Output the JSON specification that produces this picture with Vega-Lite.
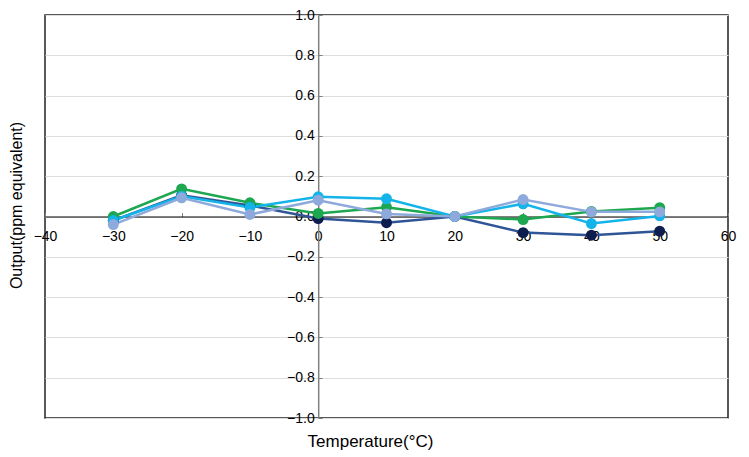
{
  "$schema": "https://vega.github.io/schema/vega-lite/v6.json",
  "width": 683,
  "height": 403,
  "autosize": {"type": "none"},
  "padding": {"left": 45, "top": 15, "right": 21, "bottom": 39},
  "background": "white",
  "config": {
    "view": {"stroke": "#222222", "strokeWidth": 1.5},
    "font": "Liberation Sans",
    "axis": {"labelFont": "Liberation Sans", "titleFont": "Liberation Sans", "labelColor": "#000000", "titleColor": "#000000", "labelFontSize": 14, "titleFontWeight": "normal"}
  },
  "data": {
    "values": [
      {"series": "A", "temp": -30, "value": -0.02},
      {"series": "A", "temp": -20, "value": 0.105},
      {"series": "A", "temp": -10, "value": 0.055},
      {"series": "A", "temp": 0, "value": -0.01},
      {"series": "A", "temp": 10, "value": -0.031},
      {"series": "A", "temp": 20, "value": 0.0},
      {"series": "A", "temp": 30, "value": -0.08},
      {"series": "A", "temp": 40, "value": -0.093},
      {"series": "A", "temp": 50, "value": -0.073},
      {"series": "B", "temp": -30, "value": 0.0},
      {"series": "B", "temp": -20, "value": 0.137},
      {"series": "B", "temp": -10, "value": 0.068},
      {"series": "B", "temp": 0, "value": 0.015},
      {"series": "B", "temp": 10, "value": 0.046},
      {"series": "B", "temp": 20, "value": 0.0},
      {"series": "B", "temp": 30, "value": -0.015},
      {"series": "B", "temp": 40, "value": 0.025},
      {"series": "B", "temp": 50, "value": 0.044},
      {"series": "C", "temp": -30, "value": -0.02},
      {"series": "C", "temp": -20, "value": 0.1},
      {"series": "C", "temp": -10, "value": 0.045},
      {"series": "C", "temp": 0, "value": 0.098},
      {"series": "C", "temp": 10, "value": 0.088},
      {"series": "C", "temp": 20, "value": 0.0},
      {"series": "C", "temp": 30, "value": 0.063},
      {"series": "C", "temp": 40, "value": -0.035},
      {"series": "C", "temp": 50, "value": 0.003},
      {"series": "D", "temp": -30, "value": -0.04},
      {"series": "D", "temp": -20, "value": 0.093},
      {"series": "D", "temp": -10, "value": 0.01},
      {"series": "D", "temp": 0, "value": 0.081},
      {"series": "D", "temp": 10, "value": 0.013},
      {"series": "D", "temp": 20, "value": 0.0},
      {"series": "D", "temp": 30, "value": 0.084},
      {"series": "D", "temp": 40, "value": 0.023},
      {"series": "D", "temp": 50, "value": 0.023}
    ]
  },
  "encoding": {
    "x": {
      "field": "temp", "type": "quantitative",
      "scale": {"domain": [-40, 60], "nice": false, "zero": false},
      "axis": {
        "title": "Temperature(°C)",
        "titleFontSize": 17,
        "offset": -201.5,
        "values": [-40, -30, -20, -10, 0, 10, 20, 30, 40, 50, 60],
        "grid": false,
        "domainColor": "#000000",
        "domainWidth": 1,
        "tickColor": "#808080",
        "tickSize": -4,
        "labelPadding": 17,
        "labelOverlap": false,
        "labelBound": false,
        "labelFlush": false,
        "titleX": 325,
        "titleY": 225,
        "titleBaseline": "middle"
      }
    },
    "y": {
      "field": "value", "type": "quantitative",
      "scale": {"domain": [-1, 1], "nice": false, "zero": false},
      "axis": {
        "title": "Output(ppm equivalent)",
        "titleFontSize": 16,
        "offset": -273.2,
        "values": [-1, -0.8, -0.6, -0.4, -0.2, 0, 0.2, 0.4, 0.6, 0.8, 1],
        "format": ".1f",
        "grid": true,
        "gridColor": "#dddddd",
        "gridWidth": 1,
        "domainColor": "#808080",
        "domainWidth": 1.5,
        "tickColor": "#808080",
        "tickSize": -4,
        "labelPadding": 8,
        "labelOverlap": false,
        "labelBound": false,
        "labelFlush": false,
        "titleX": -302,
        "titleY": 190,
        "titleBaseline": "middle"
      }
    }
  },
  "layer": [
    {
      "mark": {"type": "line", "strokeWidth": 2.5},
      "encoding": {
        "color": {
          "field": "series", "type": "nominal",
          "scale": {"domain": ["A", "B", "C", "D"], "range": ["#2F5597", "#1DA750", "#14B4EA", "#8EA9DB"]},
          "legend": null
        }
      }
    },
    {
      "mark": {"type": "point", "filled": true, "opacity": 1, "size": 120},
      "encoding": {
        "color": {
          "field": "series", "type": "nominal",
          "scale": {"domain": ["A", "B", "C", "D"], "range": ["#0D1D4F", "#1DA750", "#14B4EA", "#8EA9DB"]},
          "legend": null
        }
      }
    }
  ],
  "resolve": {"scale": {"color": "independent"}}
}
